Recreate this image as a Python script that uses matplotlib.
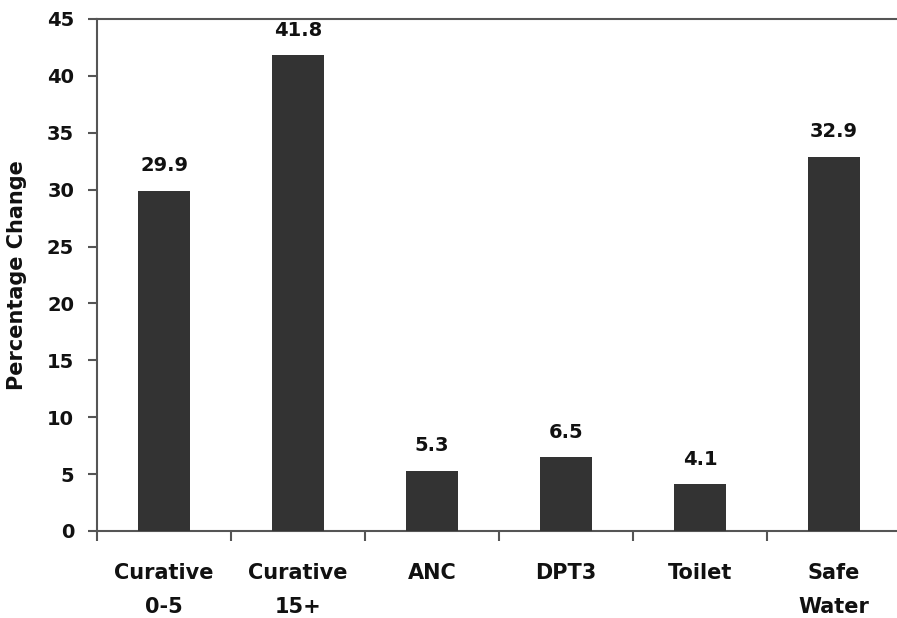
import numpy as np
import matplotlib.pyplot as plt

categories = ["Curative\n0-5", "Curative\n15+", "ANC", "DPT3", "Toilet", "Safe\nWater"]
values = [29.9, 41.8, 5.3, 6.5, 4.1, 32.9]
yticks = [0, 5, 10, 15, 20, 25, 30, 35, 40, 45]

plt.rcParams['font.family'] = ['DejaVu Sans']
plt.rcParams['font.weight'] = 'bold'

fig = plt.figure(figsize=(8.97, 6.18), dpi=100)
ax = fig.add_axes([97 / 897, 1 - 531 / 618, 804 / 897, 512 / 618])

x = np.arange(len(categories))
bars = ax.bar(x, values, width=0.39, color='#333333', zorder=3)

for xi, v in zip(x, values):
    ax.annotate(f"{v:.1f}", (xi, v), xytext=(0, 14), textcoords='offset points',
                ha='center', va='baseline', fontsize=14, fontweight='bold',
                color='#111111')

ax.set_xlim(-0.5, len(categories) - 0.5)
ax.set_ylim(0, 45)
ax.set_yticks(yticks)
ax.tick_params(axis='y', labelsize=14, length=6.5, width=1.5, color='#555555',
               pad=10, labelcolor='#111111')

# labels at bar centres, tick marks between categories
ax.set_xticks(x)
ax.set_xticklabels(categories, fontsize=15, fontweight='bold', linespacing=1.85,
                   color='#111111')
ax.tick_params(axis='x', which='major', length=0, pad=23)
ax.set_xticks(np.arange(len(categories) + 1) - 0.5, minor=True)
ax.tick_params(axis='x', which='minor', length=7, width=1.5, color='#555555')

for side in ['left', 'bottom', 'top']:
    ax.spines[side].set_linewidth(1.5)
    ax.spines[side].set_color('#555555')
ax.spines['right'].set_visible(False)

fig.text(17 / 897, 1 - 275 / 618, "Percentage Change", rotation=90,
         ha='center', va='center', fontsize=15, fontweight='bold', color='#111111')

fig.savefig("out.png", dpi=100)
